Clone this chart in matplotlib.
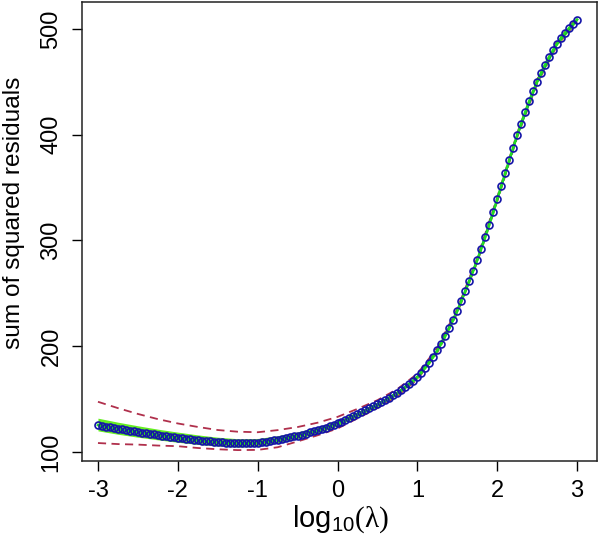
import numpy as np
import matplotlib

matplotlib.use("Agg")
import matplotlib.pyplot as plt  # noqa: E402

plt.rcParams["font.family"] = ["Liberation Sans", "DejaVu Sans"]
plt.rcParams["mathtext.fontset"] = "custom"
plt.rcParams["mathtext.rm"] = "Liberation Serif"
plt.rcParams["mathtext.it"] = "Liberation Serif"
plt.rcParams["mathtext.sf"] = "Liberation Sans"

# log10(lambda) grid, step 0.05
log_lambda = np.round(np.arange(-60, 61) * 0.05, 2)

# sum of squared residuals (one value per circle)
ssr = [
    125.5, 124.8, 124.1, 123.4, 122.7, 122.0, 121.4, 120.8, 120.2, 119.6,
    119.0, 118.4, 117.8, 117.2, 116.6, 116.1, 115.5, 115.0, 114.5, 114.0,
    113.5, 113.0, 112.5, 112.0, 111.6, 111.2, 110.8, 110.4, 110.0, 109.6,
    109.3, 109.0, 108.7, 108.5, 108.3, 108.2, 108.1, 108.1, 108.2, 108.4,
    108.7, 109.2, 109.8, 110.4, 111.0, 111.7, 112.4, 113.1, 113.9, 114.7,
    115.6, 116.5, 117.5, 118.5, 119.6, 120.7, 121.9, 123.1, 124.4, 125.8,
    127.2, 128.8, 130.5, 132.2, 134.0, 135.8, 137.6, 139.4, 141.2, 143.1,
    145.0, 147.0, 149.1, 151.3, 153.6, 156.0, 158.5, 161.2, 164.1, 167.3,
    171.0, 175.0, 179.5, 184.5, 190.0, 196.0, 202.5, 209.5, 217.0, 225.0,
    233.5, 242.5, 251.8, 261.4, 271.3, 281.5, 292.0, 303.0, 314.5, 326.5,
    338.8, 351.2, 363.6, 375.8, 387.8, 399.4, 410.6, 421.4, 431.6, 441.2,
    450.2, 458.6, 466.4, 473.6, 480.2, 486.2, 491.6, 496.5, 500.9, 505.0,
    508.8,
]

# band grid, step 0.25
band_x = [-3.0, -2.75, -2.5, -2.25, -2.0, -1.75, -1.5, -1.25, -1.0, -0.75,
          -0.5, -0.25, 0.0, 0.25, 0.5, 0.75, 1.0, 1.25, 1.5, 1.75,
          2.0, 2.25, 2.5, 2.75, 3.0]
band_mid = [125.5, 122.0, 119.0, 116.1, 113.5, 111.2, 109.3, 108.2, 108.7, 111.7,
            115.6, 120.7, 127.2, 135.8, 145.0, 156.0, 171.0, 196.0, 233.5, 281.5,
            338.8, 399.4, 450.2, 486.2, 508.8]
green_upper = [132.0, 128.2, 124.8, 121.6, 118.8, 116.2, 114.0, 112.6, 112.8, 115.4,
               119.0, 123.8, 130.0, 138.2, 147.2, 158.0, 172.8, 197.6, 235.0, 283.0,
               340.3, 400.9, 451.7, 487.7, 510.3]
green_lower = [120.0, 116.8, 114.0, 111.5, 109.2, 107.2, 105.6, 104.6, 105.2, 108.4,
               112.4, 117.8, 124.5, 133.4, 142.8, 154.0, 169.2, 194.4, 232.0, 280.0,
               337.3, 397.9, 448.7, 484.7, 507.3]
red_upper = [147.5, 141.5, 136.0, 131.1, 127.0, 123.7, 120.8, 119.2, 118.7, 120.7,
             123.6, 127.7, 133.2, 140.8, 149.0, 159.5, 174.0, 198.5, 235.5, 283.5,
             340.8, 401.4, 452.2, 488.2, 510.8]
red_lower = [108.5, 107.5, 107.0, 106.1, 105.5, 103.8, 102.6, 101.8, 102.0, 104.5,
             110.0, 115.8, 122.2, 131.8, 141.5, 153.0, 168.5, 194.0, 231.5, 279.5,
             336.8, 397.4, 448.2, 484.2, 506.8]

x_ticks = [-3, -2, -1, 0, 1, 2, 3]
y_ticks = [100, 200, 300, 400, 500]

fig = plt.figure(figsize=(6.0, 5.36), dpi=100)
ax = fig.add_axes([82 / 600, 1 - 461 / 536, 515 / 600, 459 / 536])

dash = (0, (4.5, 3))
ax.plot(band_x, red_upper, color="#b0304c", lw=1.3, ls=dash, zorder=1)
ax.plot(band_x, red_lower, color="#b0304c", lw=1.3, ls=dash, zorder=1)
ax.fill_between(band_x, green_lower, green_upper, color="#66ee22", lw=0, zorder=2)
ax.plot(band_x, band_mid, color="#008866", lw=1.5, zorder=3)
ax.plot(log_lambda, ssr, color="#22dd22", lw=1.8, zorder=3)
ax.plot(log_lambda, ssr, ls="none", marker="o", ms=5, mfc="none",
        mec="#1414a8", mew=1.2, zorder=4)

ax.set_xlim(-3.2, 3.25)
ax.set_ylim(91.5, 525.5)
ax.set_xticks(x_ticks)
ax.set_yticks(y_ticks)
ax.set_xticklabels([str(t) for t in x_ticks])
ax.tick_params(direction="out", length=7.5, width=1.0, labelsize=17, pad=6.5)
plt.setp(ax.get_yticklabels(), rotation=90, va="center")
for s in ax.spines.values():
    s.set_linewidth(1.1)
    s.set_color("#222222")

fig.text(14 / 600, 1 - 213 / 536, "sum of squared residuals", fontsize=17.6,
         rotation=90, ha="center", va="center")
fig.text(340 / 600, 1 - 519 / 536,
         r"log$_{\mathsf{10}}$$\mathrm{(\lambda)}$", fontsize=21,
         ha="center", va="center")

fig.savefig("out.png", dpi=100)
